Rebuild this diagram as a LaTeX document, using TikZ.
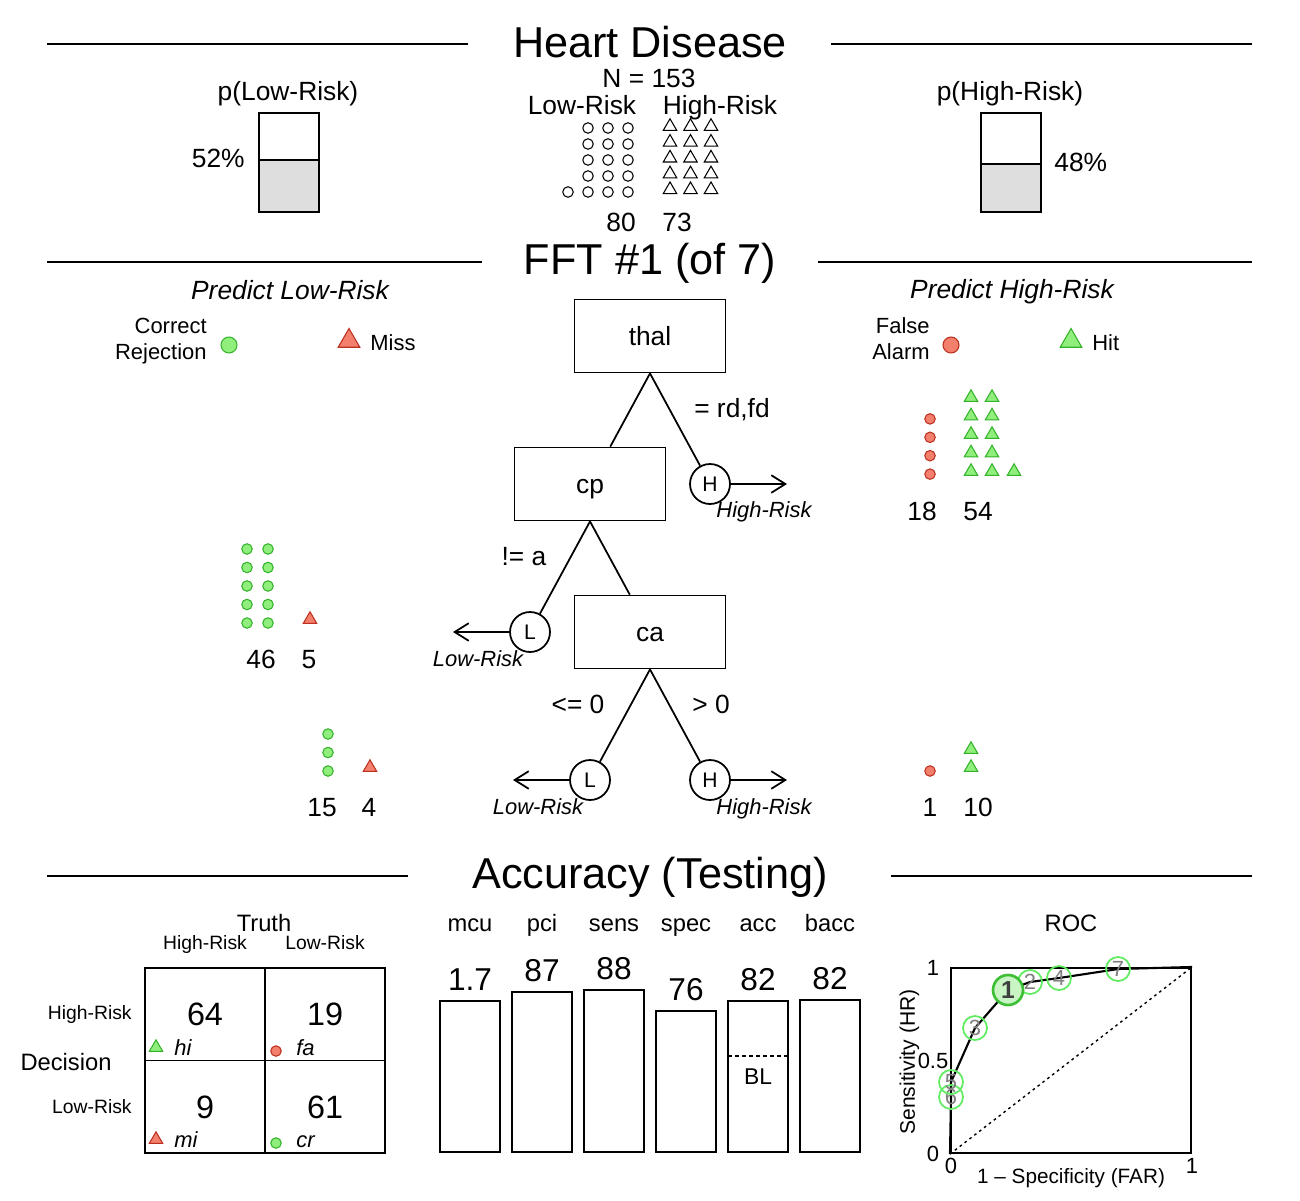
\documentclass[tikz,border=0pt]{standalone}
\usepackage{fontspec}
\setmainfont{Liberation Sans}
\usetikzlibrary{shapes.geometric, arrows.meta}

\definecolor{hitfill}{RGB}{144,238,124}
\definecolor{hitline}{RGB}{52,178,42}
\definecolor{errfill}{RGB}{242,128,108}
\definecolor{errline}{RGB}{188,48,32}
\definecolor{shade}{RGB}{222,222,222}
\definecolor{rocline}{RGB}{96,236,96}
\definecolor{rocfill}{RGB}{200,245,195}

\tikzset{
  headtxt/.style={inner sep=0pt,text height=17.7pt,text depth=0pt,font=\fontsize{24.6}{29}\selectfont},
  midtxt/.style={inner sep=0pt,text height=10.8pt,text depth=0pt,font=\fontsize{15}{18}\selectfont},
  predtxt/.style={midtxt,font=\fontsize{15}{18}\selectfont\itshape},
  smalltxt/.style={inner sep=0pt,text height=9pt,text depth=0pt,font=\fontsize{12.5}{15}\selectfont},
  exittxt/.style={smalltxt,font=\fontsize{12.5}{15}\selectfont\itshape},
  bottxt/.style={inner sep=0pt,text height=9.7pt,text depth=0pt,font=\fontsize{13.5}{16}\selectfont},
  tinytxt/.style={inner sep=0pt,text height=7.9pt,text depth=0pt,font=\fontsize{11}{13}\selectfont},
  valtxt/.style={inner sep=0pt,text height=13pt,text depth=0pt,font=\fontsize{18}{21}\selectfont},
  rule/.style={line width=1pt},
  pbar/.style={draw,line width=1pt,minimum width=1.2cm,minimum height=1.98cm,inner sep=0pt},
  cue/.style={draw,line width=1pt,minimum width=3.02cm,minimum height=1.46cm,midtxt},
  leaf/.style={circle,draw,line width=1pt,fill=white,minimum size=0.8cm,inner sep=0pt,text height=8.6pt,text depth=0pt,font=\fontsize{12}{14}\selectfont},
  branch/.style={line width=1pt},
  exitarr/.style={line width=1pt,-{Straight Barb[length=8pt,width=10pt]}},
  odot/.style={circle,draw,line width=0.6pt,inner sep=0pt,minimum size=0.21cm},
  otri/.style={regular polygon,regular polygon sides=3,draw,line width=0.6pt,inner sep=0pt,minimum size=0.31cm},
  crdot/.style={odot,fill=hitfill,draw=hitline},
  fadot/.style={odot,fill=errfill,draw=errline},
  hitri/.style={otri,fill=hitfill,draw=hitline},
  mitri/.style={otri,fill=errfill,draw=errline},
  cell/.style={draw,line width=1pt,minimum width=2.4cm,minimum height=1.85cm,inner sep=0pt,text height=13.2pt,text depth=0pt,font=\fontsize{18.4}{22}\selectfont},
  bar/.style={draw,line width=1pt,minimum width=1.2cm,inner sep=0pt,anchor=south},
  rocbox/.style={draw,line width=1.2pt,minimum width=4.8cm,minimum height=3.7cm,inner sep=0pt},
  rocpt/.style={circle,draw=rocline,line width=1pt,minimum size=0.48cm,inner sep=0pt,text=gray,smalltxt},
  rocbest/.style={circle,draw=hitline!80!rocline,fill=rocfill,line width=1.5pt,minimum size=0.6cm,inner sep=0pt,text=black!75,text height=10pt,text depth=0pt,font=\fontsize{14}{16}\selectfont\bfseries}
}

\begin{document}
\begin{tikzpicture}[x=0.02cm,y=-0.02cm]

\useasboundingbox (0,0) rectangle (1300,1200);

\node[headtxt] (title) at (650,42) {Heart Disease};
\coordinate (r1a) at (47,44);
\coordinate (r1b) at (468,44);
\coordinate (r1c) at (831,44);
\coordinate (r1d) at (1252,44);
\draw[rule] (r1a)--(r1b);
\draw[rule] (r1c)--(r1d);

\node[midtxt] (ntot) at (649,78) {N = 153};
\node[midtxt] (nlo) at (582,105) {Low-Risk};
\node[midtxt] (nhi) at (720,105) {High-Risk};

\foreach \r in {0,...,4}
  \foreach \c in {1,2,3}
    \node[odot] (lo\r\c) at (568+20*\c,128+16*\r) {};
\node[odot] (lo40) at (568,192) {};
\foreach \r in {0,...,4}
  \foreach \c in {0,1,2}
    \node[otri] (hi\r\c) at (670+20.5*\c,126.5+15.8*\r) {};

\node[midtxt] (clo) at (621,222) {80};
\node[midtxt] (chi) at (677,222) {73};

\node[midtxt] (plolbl) at (288,91) {p(Low-Risk)};
\node[pbar] (plo) at (289,162.5) {};
\node[pbar,fill=shade,minimum height=1.04cm,anchor=south] (plofill) at (plo.south) {};
\node[midtxt,anchor=east] (plopct) at (245,158) {52\%};

\node[midtxt] (philbl) at (1010,91) {p(High-Risk)};
\node[pbar] (phi) at (1011,162.5) {};
\node[pbar,fill=shade,minimum height=0.96cm,anchor=south] (phifill) at (phi.south) {};
\node[midtxt,anchor=west] (phipct) at (1054,162) {48\%};

\node[headtxt] (fft) at (650,259) {FFT \#1 (of 7)};
\coordinate (r2a) at (47,262);
\coordinate (r2b) at (482,262);
\coordinate (r2c) at (818,262);
\coordinate (r2d) at (1252,262);
\draw[rule] (r2a)--(r2b);
\draw[rule] (r2c)--(r2d);

\node[predtxt] (predlo) at (290,290) {Predict Low-Risk};
\node[predtxt] (predhi) at (1012,289) {Predict High-Risk};

\node[smalltxt,anchor=east] (crlbl1) at (207,326) {Correct};
\node[smalltxt,anchor=east] (crlbl2) at (207,352) {Rejection};
\node[crdot,minimum size=0.32cm] (crkey) at (229,345) {};
\node[mitri,minimum size=0.5cm] (mikey) at (349,341) {};
\node[smalltxt,anchor=west] (milbl) at (370,343) {Miss};

\node[smalltxt,anchor=east] (falbl1) at (930,326) {False};
\node[smalltxt,anchor=east] (falbl2) at (930,352) {Alarm};
\node[fadot,minimum size=0.32cm] (fakey) at (951,345) {};
\node[hitri,minimum size=0.5cm] (hikey) at (1071,341) {};
\node[smalltxt,anchor=west] (hilbl) at (1092,343) {Hit};

\node[cue] (thal) at (650,336) {thal};
\node[cue] (cp) at (590,484) {cp};
\node[cue] (ca) at (650,632) {ca};

\node[leaf] (ex1) at (710,484) {H};
\node[leaf] (ex2) at (530,632) {L};
\node[leaf] (ex3) at (590,780) {L};
\node[leaf] (ex4) at (710,780) {H};

\draw[branch] (thal.south)--(cp);
\draw[branch] (thal.south)--(ex1);
\draw[branch] (cp.south)--(ex2);
\draw[branch] (cp.south)--(ca);
\draw[branch] (ca.south)--(ex3);
\draw[branch] (ca.south)--(ex4);

\coordinate (ar1) at (787,484);
\coordinate (ar2) at (453,632);
\coordinate (ar3) at (513,780);
\coordinate (ar4) at (787,780);
\draw[exitarr] (ex1)--(ar1);
\draw[exitarr] (ex2)--(ar2);
\draw[exitarr] (ex3)--(ar3);
\draw[exitarr] (ex4)--(ar4);

\node[midtxt] (br1) at (732,408) {= rd,fd};
\node[midtxt] (br2) at (524,556) {!= a};
\node[midtxt] (br3) at (578,704) {<= 0};
\node[midtxt] (br4) at (711,704) {> 0};

\node[exittxt] (ex1lbl) at (764,510) {High-Risk};
\node[exittxt] (ex2lbl) at (478,659) {Low-Risk};
\node[exittxt] (ex3lbl) at (538,807) {Low-Risk};
\node[exittxt] (ex4lbl) at (764,807) {High-Risk};

\foreach \r in {1,...,4}
  \node[fadot] (xa\r) at (930,400.5+18.4*\r) {};
\foreach \r in {0,...,4}
  \foreach \c in {0,1}
    \node[hitri] (xb\r\c) at (971+21*\c,397.5+18.5*\r) {};
\node[hitri] (xb42) at (1014,471.5) {};
\node[midtxt] (xan) at (922,511) {18};
\node[midtxt] (xbn) at (978,511) {54};

\foreach \r in {0,...,4}
  \foreach \c in {0,1}
    \node[crdot] (ya\r\c) at (247+21*\c,549+18.5*\r) {};
\node[mitri] (yb) at (310,619.5) {};
\node[midtxt] (yan) at (261,659) {46};
\node[midtxt] (ybn) at (309,659) {5};

\foreach \r in {0,1,2}
  \node[crdot] (za\r) at (328,734+18.5*\r) {};
\node[mitri] (zb) at (370,767.5) {};
\node[midtxt] (zan) at (322,807) {15};
\node[midtxt] (zbn) at (369,807) {4};

\node[fadot] (wa) at (930,771) {};
\node[hitri] (wb0) at (971,749.5) {};
\node[hitri] (wb1) at (971,767.5) {};
\node[midtxt] (wan) at (930,807) {1};
\node[midtxt] (wbn) at (978,807) {10};

\node[headtxt] (acctitle) at (650,873) {Accuracy (Testing)};
\coordinate (r3a) at (47,876);
\coordinate (r3b) at (408,876);
\coordinate (r3c) at (891,876);
\coordinate (r3d) at (1252,876);
\draw[rule] (r3a)--(r3b);
\draw[rule] (r3c)--(r3d);

\node[bottxt] (truth) at (264,923) {Truth};
\node[tinytxt] (tch) at (205,943) {High-Risk};
\node[tinytxt] (tcl) at (325,943) {Low-Risk};
\node[tinytxt,anchor=east] (dch) at (132,1013) {High-Risk};
\node[tinytxt,anchor=east] (dcl) at (132,1107) {Low-Risk};
\node[bottxt] (dec) at (66,1062) {Decision};

\node[cell] (hit) at (205,1014.25) {64};
\node[cell] (fa) at (325,1014.25) {19};
\node[cell] (mi) at (205,1106.75) {9};
\node[cell] (cr) at (325,1106.75) {61};

\node[hitri] (hiic) at (156,1047.5) {};
\node[exittxt,anchor=west] (hilb) at (174,1048) {hi};
\node[fadot] (faic) at (276,1051) {};
\node[exittxt,anchor=west] (falb) at (296,1048) {fa};
\node[mitri] (miic) at (156,1139.5) {};
\node[exittxt,anchor=west] (milb) at (174,1140) {mi};
\node[crdot] (cric) at (276,1143) {};
\node[exittxt,anchor=west] (crlb) at (296,1140) {cr};

\foreach \nm/\x/\top/\val/\vy in {mcu/470/1002/1.7/979, pci/542/993/87/970, sens/614/991/88/968, spec/686/1012/76/989, acc/758/1002/82/979, bacc/830/1001/82/978}
{
  \pgfmathsetmacro\bh{(1153-\top)*0.02}
  \node[bottxt] (n\nm) at (\x,923) {\nm};
  \node[bar,minimum height=\bh cm] (b\nm) at (\x,1153) {};
  \node[valtxt] (v\nm) at (\x,\vy) {\val};
}
\coordinate (bla) at (728,1056);
\coordinate (blb) at (788,1056);
\draw[dash pattern=on 2pt off 2pt,line width=0.8pt] (bla)--(blb);
\node[bottxt,font=\fontsize{13}{15}\selectfont] (bl) at (758,1076) {BL};

\node[bottxt] (roct) at (1071,923) {ROC};
\node[rocbox] (roc) at (1071,1060.5) {};
\draw[dash pattern=on 1.5pt off 2pt,line width=0.8pt] (roc.south west)--(roc.north east);

\node[smalltxt] (yt1) at (933,968) {1};
\node[smalltxt] (yt5) at (933,1061) {0.5};
\node[smalltxt] (yt0) at (933,1154) {0};
\node[smalltxt] (xt0) at (951,1166) {0};
\node[smalltxt] (xt1) at (1192,1166) {1};
\node[smalltxt,font=\fontsize{12}{14}\selectfont,rotate=90] (ylab) at (907,1062) {Sensitivity (HR)};
\node[smalltxt,font=\fontsize{11.8}{14}\selectfont] (xlab) at (1071,1176) {1 – Specificity (FAR)};

\coordinate (q1) at (1008,990);
\coordinate (q2) at (1030,982);
\coordinate (q3) at (975,1028);
\coordinate (q4) at (1059,978);
\coordinate (q5) at (951,1082);
\coordinate (q6) at (951,1097);
\coordinate (q7) at (1118,969);
\draw[line width=1.2pt] (roc.south west)--(q6)--(q5)--(q3)--(q1)--(q2)--(q4)--(q7)--(roc.north east);

\node[rocpt] (p7) at (q7) {7};
\node[rocpt] (p4) at (q4) {4};
\node[rocpt] (p2) at (q2) {2};
\node[rocpt] (p3) at (q3) {3};
\node[rocpt] (p6) at (q6) {6};
\node[rocpt] (p5) at (q5) {5};
\node[rocbest] (p1) at (q1) {1};

\end{tikzpicture}
\end{document}
